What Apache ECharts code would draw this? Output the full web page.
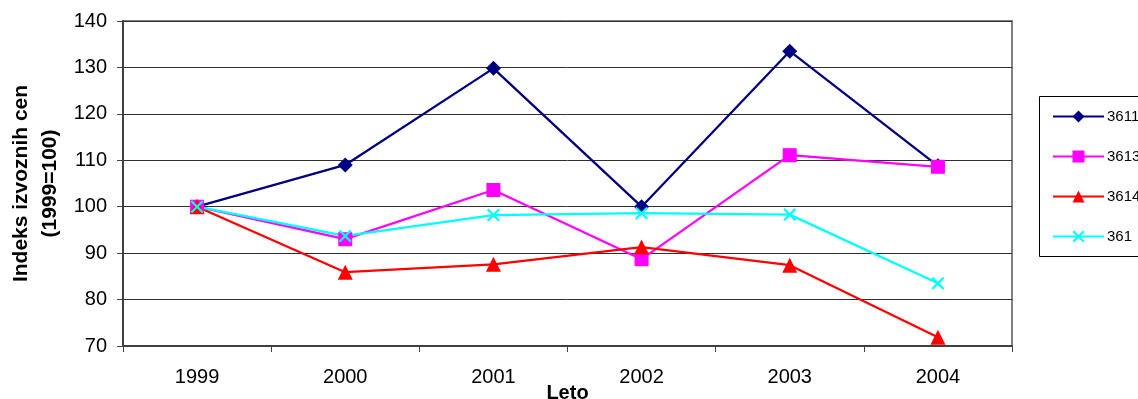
<!DOCTYPE html>
<html><head><meta charset="utf-8">
<script src="https://cdn.jsdelivr.net/npm/echarts@6/dist/echarts.min.js"></script>
<style>html,body{margin:0;padding:0;background:#fff}#c{width:1138px;height:399px}</style>
</head><body><div id="c"></div>
<script>
const years = ['1999','2000','2001','2002','2003','2004'];
const s3611 = [100, 109.0, 129.8, 100.0, 133.5, 108.8];
const s3613 = [100, 93.0, 103.6, 88.7, 111.1, 108.6];
const s3614 = [100, 85.9, 87.6, 91.3, 87.4, 71.9];
const s361 = [100, 93.7, 98.2, 98.6, 98.3, 83.5];
const names = ['3611','3613','3614','361'];

const xPath = 'path://M0,1.2L1.2,0L5,3.8L8.8,0L10,1.2L6.2,5L10,8.8L8.8,10L5,6.2L1.2,10L0,8.8L3.8,5Z';
const font = 'Arial, "Liberation Sans", sans-serif';
function ser(name, data, color, symbol, size) {
  return { name, type: 'line', data, symbol, symbolSize: size,
    lineStyle: { color, width: 2.3 }, itemStyle: { color },
    z: 3, animation: false };
}
const chart = echarts.init(document.getElementById('c'));
chart.setOption({
  animation: false,
  textStyle: { fontFamily: font },
  grid: { left: 123, right: 126, top: 21, bottom: 53, containLabel: false, outerBoundsMode: 'none',
    show: true, borderColor: '#808080', borderWidth: 2, backgroundColor: '#fff' },
  xAxis: {
    type: 'category', data: years, boundaryGap: true,
    name: 'Leto', nameLocation: 'middle', nameGap: 37, nameMoveOverlap: false,
    nameTextStyle: { fontWeight: 'bold', fontSize: 20, color: '#000', fontFamily: font },
    axisLine: { lineStyle: { color: '#404040', width: 2 } },
    axisTick: { show: true, length: 6, lineStyle: { color: '#404040', width: 1 } },
    axisLabel: { fontSize: 20, color: '#000', margin: 21, fontFamily: font },
    splitLine: { show: false }
  },
  yAxis: {
    type: 'value', min: 70, max: 140, interval: 10,
    name: 'Indeks izvoznih cen\n(1999=100)', nameLocation: 'middle', nameGap: 58, nameRotate: 90, nameMoveOverlap: false,
    nameTextStyle: { fontWeight: 'bold', fontSize: 21, color: '#000', lineHeight: 29, fontFamily: font },
    axisLine: { show: true, lineStyle: { color: '#404040', width: 2 } },
    axisTick: { show: true, length: 6, lineStyle: { color: '#404040', width: 1 } },
    axisLabel: { fontSize: 20, color: '#000', margin: 16, fontFamily: font },
    splitLine: { show: true, lineStyle: { color: '#303030', width: 1 } }
  },
  legend: {
    orient: 'vertical', left: 1052, top: 109, padding: 0, itemWidth: 51, itemHeight: 15, itemGap: 25,
    data: names, textStyle: { fontSize: 15, color: '#000', fontFamily: font, padding: [0,0,0,-2] }
  },
  graphic: [{ type: 'rect', shape: { x: 1039.5, y: 96.5, width: 200, height: 160 },
    style: { fill: null, stroke: '#000', lineWidth: 1 }, z: 0, silent: true }],
  series: [
    ser('3611', s3611, '#000080', 'diamond', 15),
    ser('3613', s3613, '#FF00FF', 'rect', 14),
    ser('3614', s3614, '#FF0000', 'triangle', 15),
    ser('361', s361, '#00FFFF', xPath, 13)
  ]
});
</script></body></html>
